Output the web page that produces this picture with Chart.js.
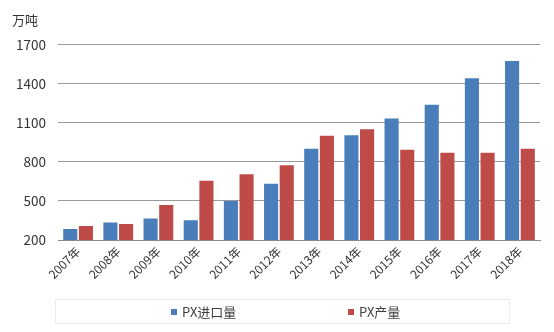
<!DOCTYPE html>
<html>
<head>
<meta charset="utf-8">
<script src="https://cdn.jsdelivr.net/npm/chart.js@4/dist/chart.umd.min.js"></script>
<style>
  html, body { margin: 0; padding: 0; background: #fff; }
  #wrap { width: 554px; height: 332px; position: relative; }
</style>
</head>
<body>
<div id="wrap"><canvas id="chart-px"></canvas></div>
<script>
// datos (unidad: 万吨)
const years = ['2007年', '2008年', '2009年', '2010年', '2011年', '2012年',
               '2013年', '2014年', '2015年', '2016年', '2017年', '2018年'];
const importVals = [285, 335, 366, 351, 500, 631, 900, 1005, 1133, 1238, 1441, 1574];
const outputVals = [308, 323, 469, 654, 705, 774, 1000, 1051, 892, 869, 870, 900];
const yTicks = [200, 500, 800, 1100, 1400, 1700];

const FONT = '"Noto Sans CJK SC", "Noto Sans", sans-serif';
const COLOR_BLUE = '#4a7ebb';
const COLOR_RED = '#be4b48';

// leyenda dibujada a mano, con marco (la de Chart.js mete demasiado padding)
const boxLegend = {
  id: 'boxLegend',
  afterDraw(chart) {
    const ctx = chart.ctx, ca = chart.chartArea;
    const left = ca.left - 3, right = ca.right - 31;
    const top = chart.height - 33, h = 24;
    ctx.save();
    ctx.strokeStyle = '#ececec';
    ctx.lineWidth = 1;
    ctx.strokeRect(left + 0.5, top + 0.5, right - left, h);
    const offsets = [116, 293];
    ctx.font = '13px ' + FONT;
    ctx.textBaseline = 'middle';
    chart.data.datasets.forEach((ds, i) => {
      const x = left + offsets[i], y = top + h / 2 + 1;
      ctx.fillStyle = ds.backgroundColor;
      ctx.fillRect(x, y - 3, 6, 6);
      ctx.fillStyle = '#404040';
      ctx.fillText(ds.label, x + 11, y);
    });
    ctx.restore();
  }
};

new Chart(document.getElementById('chart-px'), {
  type: 'bar',
  data: {
    labels: years,
    datasets: [
      { label: 'PX进口量', data: importVals, backgroundColor: COLOR_BLUE },
      { label: 'PX产量', data: outputVals, backgroundColor: COLOR_RED }
    ]
  },
  options: {
    animation: false,
    responsive: true,
    maintainAspectRatio: false,
    layout: { padding: { left: 12, right: 14, top: 4, bottom: 42 } },
    datasets: { bar: { categoryPercentage: 0.78, barPercentage: 0.9 } },
    plugins: {
      title: {
        display: true,
        text: '万吨',
        align: 'start',
        color: '#333',
        font: { family: FONT, size: 13, weight: 'normal' },
        padding: { top: 8, bottom: 17 }
      },
      legend: { display: false },
      tooltip: { enabled: false }
    },
    scales: {
      x: {
        afterFit: (s) => { s.height = 50; },
        grid: { display: false, drawTicks: false },
        border: { color: '#8a8a8a' },
        ticks: {
          minRotation: 45,
          maxRotation: 45,
          padding: 4,
          color: '#333',
          font: { family: FONT, size: 12 }
        }
      },
      y: {
        min: 200,
        max: 1700,
        afterBuildTicks: (s) => { s.ticks = yTicks.map(v => ({ value: v })); },
        afterFit: (s) => { s.width = 46; },
        grid: { color: '#9a9a9a', drawTicks: false },
        border: { display: false },
        ticks: {
          padding: 12,
          color: '#333',
          font: { family: FONT, size: 13.5 },
          callback: (v) => String(v)
        }
      }
    }
  },
  plugins: [boxLegend]
});
</script>
</body>
</html>
